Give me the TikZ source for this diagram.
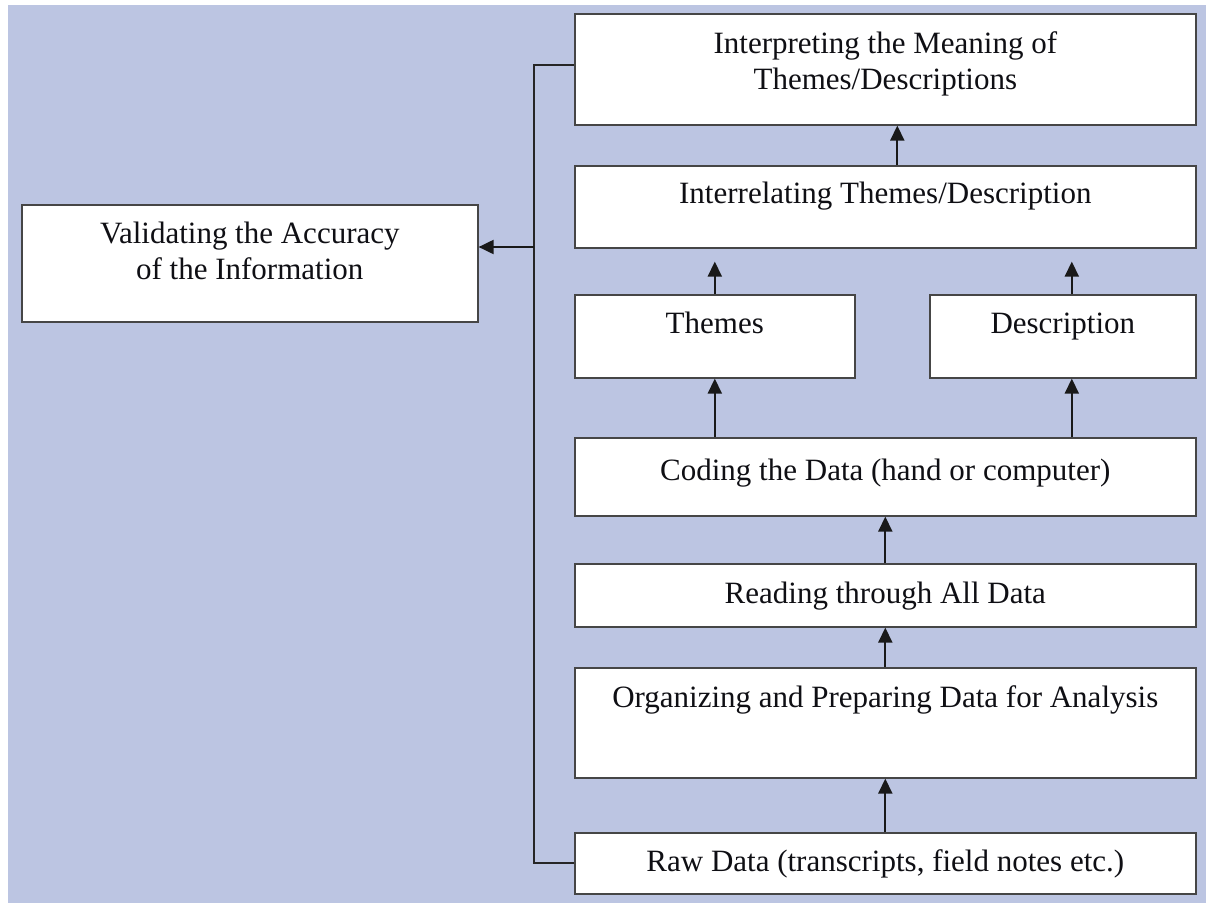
\documentclass[tikz,border=0pt]{standalone}
\usepackage{fontspec}
\setmainfont{Liberation Serif}
\usetikzlibrary{arrows.meta}
\definecolor{bgblue}{RGB}{188,197,226}
\definecolor{boxline}{RGB}{70,70,70}
\definecolor{inktext}{RGB}{15,15,20}

\begin{document}
\begin{tikzpicture}[x=1pt, y=-1pt,
    >={Triangle[width=14pt,length=15pt]},
    stage/.style={draw=boxline, line width=1.6pt, fill=white, inner sep=0pt,
      anchor=north west, text=inktext, font=\fontsize{31}{36}\selectfont,
      text height=39pt},
    flow/.style={->, line width=2pt, draw=black!90}]
    % page and background
    \useasboundingbox (0,0) rectangle (1206,903);
    \fill[bgblue] (8,5) rectangle (1206,903);
    % right column, from top to bottom
    \node[stage, minimum width=621pt, text height=40pt, text depth=71pt] (interp) at (574,13)
      {\begin{tabular}[t]{@{}c@{}}Interpreting the Meaning of\\Themes/Descriptions\end{tabular}};
    \node[stage, minimum width=621pt, text height=38pt, text depth=44pt] (interrel) at (574,165)
      {Interrelating Themes/Description};
    \node[stage, minimum width=280pt, text depth=44pt] (themes) at (574,294) {Themes};
    \node[stage, minimum width=266pt, text depth=44pt] (descr) at (929,294) {Description};
    \node[stage, minimum width=621pt, text height=43pt, text depth=35pt] (coding) at (574,437)
      {Coding the Data (hand or computer)};
    \node[stage, minimum width=621pt, text height=40pt, text depth=23pt] (reading) at (574,563)
      {Reading through All Data};
    \node[stage, minimum width=621pt, text height=40pt, text depth=70pt] (organize) at (574,667)
      {Organizing and Preparing Data for Analysis};
    \node[stage, minimum width=621pt, text depth=22pt] (raw) at (574,832)
      {Raw Data (transcripts, field notes etc.)};
    % left box
    \node[stage, minimum width=456pt, text depth=78pt] (valid) at (21,204)
      {\begin{tabular}[t]{@{}c@{}}Validating the Accuracy\\of the Information\end{tabular}};
    % upward arrows
    \coordinate (descr foot) at ([xshift=9pt]descr.south);
    \coordinate (descr head) at ([xshift=9pt]descr.north);
    \draw[flow] (raw) -- (organize);
    \draw[flow] (organize) -- (reading);
    \draw[flow] (reading) -- (coding);
    \draw[flow] (coding.north -| themes.south) -- (themes.south);
    \draw[flow] (descr foot |- coding.north) -- (descr foot);
    \draw[flow, shorten >=13pt] (themes.north) -- (themes.north |- interrel.south);
    \draw[flow, shorten >=13pt] (descr head) -- (descr head |- interrel.south);
    \draw[flow] ([xshift=12pt]interrel.north) -- ([xshift=12pt]interp.south);
    % validation loop on the left
    \draw[line width=1.8pt, draw=black!85] (raw.west) -- ++(-40,0) coordinate (corner)
      |- ([yshift=4pt]interp.west);
    \coordinate (branch) at (corner |- 0,247);
    \draw[flow] (branch) -- (branch -| valid.east);
\end{tikzpicture}
\end{document}
